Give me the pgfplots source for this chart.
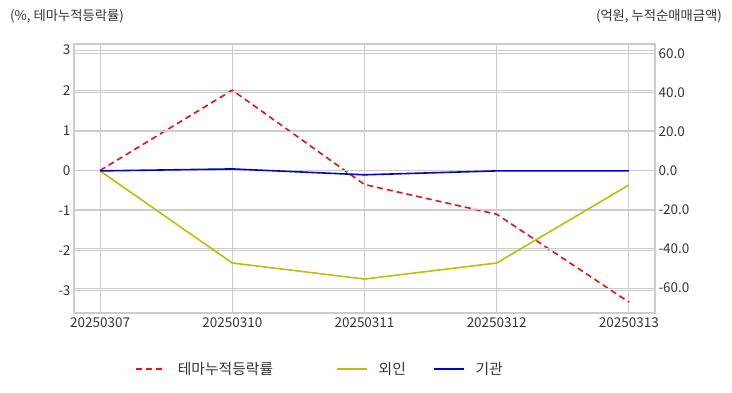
\documentclass[border=0pt]{standalone}
\usepackage{pgfplots}
\pgfplotsset{compat=1.18}
\usepackage{fontspec}
\setmainfont{Noto Sans CJK KR}
\definecolor{txt}{HTML}{333333}
\definecolor{gridc}{HTML}{CCCCCC}
\definecolor{fcol}{HTML}{BDBD0A}
\definecolor{icol}{HTML}{0000CC}
\definecolor{tcol}{HTML}{E81010}
\begin{document}
\begin{tikzpicture}[x=1pt,y=1pt]
\path[use as bounding box] (0,0) rectangle (732,392);
\node[anchor=west,text=txt,font=\fontsize{13.3}{15}\selectfont, inner sep=0pt] at (10,376) {(\%, 테마누적등락률)};
\node[anchor=east,text=txt,font=\fontsize{13.3}{15}\selectfont, inner sep=0pt] at (722,376) {(억원, 누적순매매금액)};
\begin{axis}[
  at={(74pt,79pt)}, anchor=south west, scale only axis,
  width=581pt, height=269pt,
  xmin=-0.197, xmax=4.197, ymin=-3.55, ymax=3.15,
  xtick={0,1,2,3,4},
  xticklabels={20250307,20250310,20250311,20250312,20250313},
  ytick={-3,-2,-1,0,1,2,3},
  grid=major,
  major grid style={gridc, line width=1pt},
  axis line style={gridc, line width=1.2pt},
  tick style={draw=none},
  ticklabel style={font=\fontsize{13.5}{15}\selectfont, text=txt},
  /pgf/number format/assume math mode=true,
  xticklabel shift=1pt,
]
\addplot[tcol, line width=1.6pt, dash pattern=on 6pt off 4pt] coordinates {
  (0,0) (1,2.0) (2,-0.35) (3,-1.09) (4,-3.28)};
\end{axis}
\begin{axis}[
  at={(74pt,79pt)}, anchor=south west, scale only axis,
  width=581pt, height=269pt,
  xmin=-0.197, xmax=4.197, ymin=-72.8, ymax=65,
  axis x line=none, axis y line*=right,
  ytick={-60,-40,-20,0,20,40,60},
  ymajorgrids,
  major grid style={gridc, line width=1pt},
  axis line style={gridc, line width=1.2pt},
  tick style={draw=none},
  ticklabel style={font=\fontsize{13.5}{15}\selectfont, text=txt},
  /pgf/number format/assume math mode=true,
  yticklabel style={/pgf/number format/.cd, fixed, fixed zerofill, precision=1},
  legend style={at={(0.4234,-0.208)}, anchor=center, draw=none, fill=none,
    font=\fontsize{14.8}{16}\selectfont, text=txt,
    /tikz/every odd column/.append style={column sep=9pt},
    /tikz/column 2/.style={column sep=61pt},
    /tikz/column 4/.style={column sep=25pt}},
  legend columns=3,
  legend image code/.code={\draw[#1] (0pt,0pt) -- (30pt,0pt);},
]
\addlegendimage{tcol, line width=1.6pt, dash pattern=on 6pt off 4pt}
\addlegendentry{테마누적등락률}
\addplot[fcol, line width=1.6pt] coordinates {
  (0,0) (1,-47.2) (2,-55.4) (3,-47.2) (4,-7.2)};
\addlegendentry{외인}
\addplot[icol, line width=1.6pt] coordinates {
  (0,0) (1,1.0) (2,-2.0) (3,0) (4,0)};
\addlegendentry{기관}
\end{axis}
\end{tikzpicture}
\end{document}
